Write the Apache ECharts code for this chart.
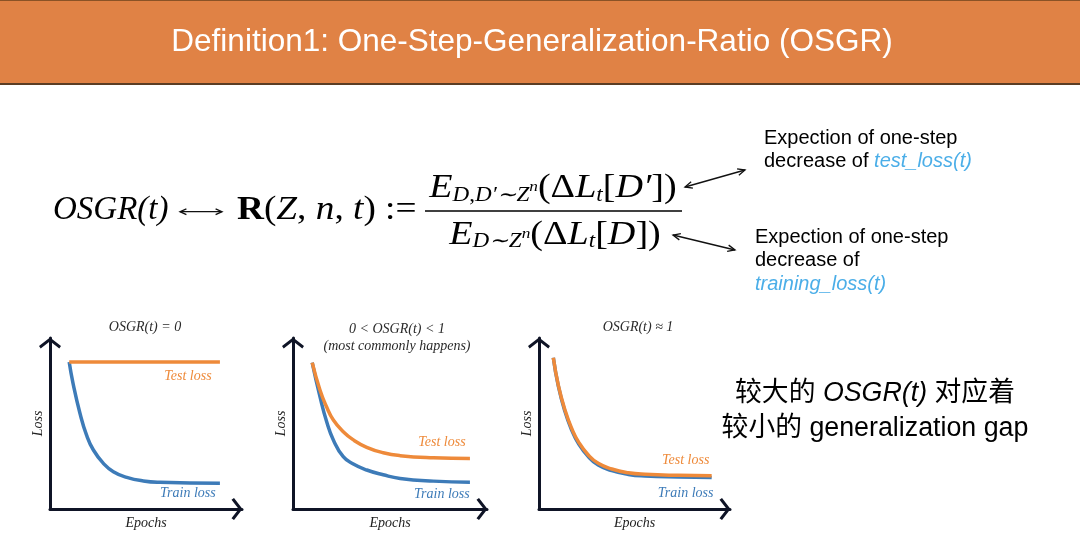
<!DOCTYPE html>
<html><head><meta charset="utf-8">
<script src="https://cdn.jsdelivr.net/npm/echarts@6/dist/echarts.min.js"></script>
<style>html,body{margin:0;padding:0;background:#fff}#c{width:1080px;height:546px}</style>
</head><body><div id="c"></div>
<script>
// ---- data ----
const panelTitles = ['OSGR(t) = 0', '0 < OSGR(t) < 1\n(most commonly happens)', 'OSGR(t) \u2248 1'];
const seriesNames = ['Test loss', 'Train loss'];
const axisNames = ['Epochs', 'Loss'];

const testEpochs1 = [10, 88.5];
const test1 = [86, 86];
const trainEpochs1 = [10, 12, 15.6, 19, 22.6, 27.8, 33, 40, 48.6, 57.3, 88.5];
const train1 = [86, 73.5, 56, 43.3, 34.5, 26.7, 21.8, 18.5, 16.4, 15.6, 15];

const epochs2 = [9.9, 13.9, 17.4, 20.8, 25.9, 31.1, 38, 46.5, 55.2, 72.3, 91.2];
const test2 = [85.6, 69.6, 59.5, 52, 45.2, 40.4, 36.1, 32.9, 31.2, 30, 29.6];
const train2 = [85.6, 65.7, 50.9, 40.4, 30.6, 26.3, 22.8, 20, 17.9, 16.3, 15.6];

const epochs3 = [7.5, 10.1, 13.6, 17.1, 20.6, 25.8, 31, 38.1, 46.8, 55.5, 72.9, 90.4];
const test3 = [88.5, 72.5, 57.9, 47.2, 39.4, 31.6, 26.7, 23.4, 21.2, 20.3, 19.7, 19.5];
const train3 = [88.5, 72, 57, 46.2, 38.4, 30.6, 25.7, 22.4, 20.2, 19.3, 18.7, 18.4];

// ---- styling ----
const ORANGE = '#EE8A3A', BLUE = '#3D7BB8', AXIS = '#0f1426';
const SERIF = 'Liberation Serif';
const CHEVRON = 'path://M0,8.5 L11,0 L22,8.5 L20.3,11 L11,3.8 L1.7,11 Z';

const grids = [
  {left: 50, top: 338, width: 192, height: 171},
  {left: 293, top: 338, width: 194, height: 171},
  {left: 539, top: 338, width: 191, height: 171}
].map(g => Object.assign({outerBoundsMode: 'none', containLabel: false}, g));

const axisLine = {show: true, onZero: false, lineStyle: {color: AXIS, width: 3},
  symbol: ['none', CHEVRON], symbolSize: [22, 11], symbolOffset: [0, -5]};
const nameStyle = {fontFamily: SERIF, fontStyle: 'italic', fontSize: 14, color: '#222'};

const xAxes = [0, 1, 2].map(i => ({gridIndex: i, type: 'value', min: 0, max: 100,
  axisLine, axisTick: {show: false}, axisLabel: {show: false}, splitLine: {show: false},
  name: axisNames[0], nameLocation: 'middle', nameGap: 7, nameTextStyle: nameStyle}));
const yAxes = [0, 1, 2].map(i => ({gridIndex: i, type: 'value', min: 0, max: 100,
  axisLine, axisTick: {show: false}, axisLabel: {show: false}, splitLine: {show: false},
  name: axisNames[1], nameLocation: 'middle', nameGap: 5, nameTextStyle: nameStyle}));

function curve(name, xs, ys, color, g, off) {
  const data = xs.map((x, i) => [x, ys[i]]);
  return {
    type: 'line', name, xAxisIndex: g, yAxisIndex: g, data,
    smooth: 0.5, showSymbol: false, symbol: 'none', silent: true,
    lineStyle: {color, width: 3.5}, itemStyle: {color},
    markPoint: {symbol: 'rect', symbolSize: 1, silent: true, itemStyle: {color: 'rgba(0,0,0,0)'},
      label: {show: true, position: 'inside', formatter: name, offset: off, color,
        fontFamily: SERIF, fontStyle: 'italic', fontSize: 14},
      data: [{coord: data[data.length - 1]}]}
  };
}

const series = [
  curve(seriesNames[1], trainEpochs1, train1, BLUE, 0, [-32, 10]),
  curve(seriesNames[0], testEpochs1, test1, ORANGE, 0, [-32, 14]),
  curve(seriesNames[1], epochs2, train2, BLUE, 1, [-28, 12]),
  curve(seriesNames[0], epochs2, test2, ORANGE, 1, [-28, -16]),
  curve(seriesNames[1], epochs3, train3, BLUE, 2, [-26, 16]),
  curve(seriesNames[0], epochs3, test3, ORANGE, 2, [-26, -15])
];

const titleStyle = {fontFamily: SERIF, fontStyle: 'italic', fontWeight: 'normal', fontSize: 14, color: '#2a2a2a', lineHeight: 17};
const titles = [
  {text: panelTitles[0], left: 145, top: 327.5},
  {text: panelTitles[1], left: 397, top: 337.5},
  {text: panelTitles[2], left: 638, top: 327.5}
].map(t => Object.assign({padding: 0, textAlign: 'center', textVerticalAlign: 'middle', textStyle: titleStyle}, t));

// ---- decorative slide graphics ----
function dblArrow(x1, y1, x2, y2, head) {
  const a = Math.atan2(y2 - y1, x2 - x1);
  const h = (x, y, ang) => [[x + head * Math.cos(ang + 0.42), y + head * Math.sin(ang + 0.42)], [x, y],
    [x + head * Math.cos(ang - 0.42), y + head * Math.sin(ang - 0.42)]];
  const st = {stroke: '#111', lineWidth: 1.3, fill: null};
  return {type: 'group', children: [
    {type: 'line', shape: {x1, y1, x2, y2}, style: st},
    {type: 'polyline', shape: {points: h(x1, y1, a)}, style: st},
    {type: 'polyline', shape: {points: h(x2, y2, a + Math.PI)}, style: st}
  ]};
}

const FS = 33;
const mathRich = {
  m: {fontFamily: SERIF, fontSize: FS, lineHeight: 36, fill: '#000'},
  i: {fontFamily: SERIF, fontStyle: 'italic', fontSize: FS, lineHeight: 36, fill: '#000'},
  b: {fontFamily: SERIF, fontWeight: 'bold', fontSize: FS, lineHeight: 36, fill: '#000'},
  s: {fontFamily: SERIF, fontStyle: 'italic', fontSize: 20, lineHeight: 10, height: 22, verticalAlign: 'bottom', fill: '#000'},
  sm: {fontFamily: SERIF, fontSize: 20, lineHeight: 10, height: 22, verticalAlign: 'bottom', fill: '#000'},
  sp: {fontFamily: SERIF, fontStyle: 'italic', fontSize: 15, lineHeight: 10, height: 38, verticalAlign: 'bottom', fill: '#000'}
};
const SX = 1.155;

const graphic = [
  {type: 'rect', shape: {x: 0, y: 0, width: 1080, height: 84}, style: {fill: '#E08245'}},
  {type: 'line', shape: {x1: 0, y1: 0.5, x2: 1080, y2: 0.5}, style: {stroke: '#8a5226', lineWidth: 1}},
  {type: 'line', shape: {x1: 0, y1: 84, x2: 1080, y2: 84}, style: {stroke: '#5b3d24', lineWidth: 2}},
  {type: 'text', x: 532, y: 42, style: {text: 'Definition1: One-Step-Generalization-Ratio (OSGR)',
    fill: '#fff', font: '31.5px "Liberation Sans"', align: 'center', verticalAlign: 'middle'}},

  {type: 'text', x: 53, y: 210, style: {text: 'OSGR(t)', fill: '#000',
    font: 'italic 33px "Liberation Serif"', align: 'left', verticalAlign: 'middle'}},
  dblArrow(180, 211.7, 222, 211.7, 7),
  {type: 'text', x: 237, y: 210, scaleX: 1.13, style: {text: '{b|R}{m|(}{i|Z}{m|, }{i|n}{m|, }{i|t}{m|) :=}',
    rich: mathRich, align: 'left', verticalAlign: 'middle'}},
  {type: 'text', x: 553, y: 188.3, scaleX: SX, style: {
    text: '{i|E}{s|D}{sm|,}{s|D\u2032\u223CZ}{sp|n}{m|(\u0394}{i|L}{s|t}{m|[}{i|D\u2032}{m|])}',
    rich: mathRich, align: 'center', verticalAlign: 'middle'}},
  {type: 'line', shape: {x1: 425, y1: 211, x2: 682, y2: 211}, style: {stroke: '#000', lineWidth: 1.4}},
  {type: 'text', x: 555, y: 235, scaleX: SX, style: {
    text: '{i|E}{s|D\u223CZ}{sp|n}{m|(\u0394}{i|L}{s|t}{m|[}{i|D}{m|])}',
    rich: mathRich, align: 'center', verticalAlign: 'middle'}},
  dblArrow(685, 187, 745, 170, 8),
  dblArrow(673, 235, 735, 250, 8),

  {type: 'text', x: 764, y: 127, style: {
    text: '{n|Expection of one-step}\n{n|decrease of }{h|test_loss(t)}',
    rich: {n: {fontFamily: 'Liberation Sans', fontSize: 20, lineHeight: 23, fill: '#000'},
      h: {fontFamily: 'Liberation Sans', fontStyle: 'italic', fontSize: 20, lineHeight: 23, fill: '#4BAEE8'}},
    align: 'left', verticalAlign: 'top'}},
  {type: 'text', x: 755, y: 226, style: {
    text: '{n|Expection of one-step}\n{n|decrease of}\n{h|training_loss(t)}',
    rich: {n: {fontFamily: 'Liberation Sans', fontSize: 20, lineHeight: 23.3, fill: '#000'},
      h: {fontFamily: 'Liberation Sans', fontStyle: 'italic', fontSize: 20, lineHeight: 23.3, fill: '#4BAEE8'}},
    align: 'left', verticalAlign: 'top'}},

  {type: 'text', x: 875, y: 411.5, style: {
    text: '{c|较大的 }{it|OSGR(t)}{c| 对应着}\n{c|较小的 generalization gap}',
    rich: {c: {fontFamily: '"Liberation Sans","Noto Sans CJK SC"', fontSize: 26.8, lineHeight: 35, fill: '#000'},
      it: {fontFamily: '"Liberation Sans","Noto Sans CJK SC"', fontStyle: 'italic', fontSize: 26.8, lineHeight: 35, fill: '#000'}},
    align: 'center', verticalAlign: 'middle'}}
];

const chart = echarts.init(document.getElementById('c'), null, {renderer: 'canvas'});
chart.setOption({
  animation: false,
  backgroundColor: '#fff',
  title: titles,
  grid: grids,
  xAxis: xAxes,
  yAxis: yAxes,
  series,
  graphic
});
</script></body></html>
